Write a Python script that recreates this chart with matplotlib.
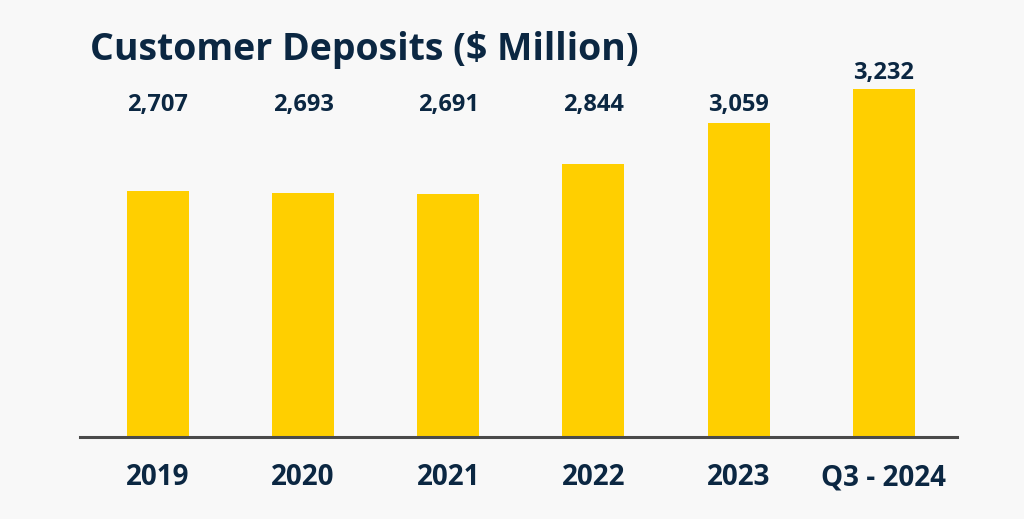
import matplotlib.pyplot as plt

# Customer deposits per period, $ million
periods = ['2019', '2020', '2021', '2022', '2023', 'Q3 - 2024']
deposits = [2707, 2693, 2691, 2844, 3059, 3232]

navy = '#0b2742'
gold = '#ffcf00'
bg = '#f8f8f8'

plt.rcParams['font.family'] = ['Open Sans', 'DejaVu Sans']

fig = plt.figure(figsize=(10.24, 5.19), dpi=100, facecolor=bg)
ax = fig.add_axes([0.078, 0.158, 0.8564, 0.765], facecolor=bg)

x = range(len(periods))
ax.bar(x, deposits, width=0.427, color=gold, zorder=2)

# axis floor is not zero, so the growth reads clearly
ax.set_ylim(1427, 3489)
ax.set_xlim(-0.537, 5.503)

# value labels sit on one line, unless the bar pushes them up
label_level = 3150
for i, v in enumerate(deposits):
    y = max(label_level, v + 85)
    ax.text(i, y, f'{v:,}', ha='center', va='center', fontsize=17,
            fontweight='bold', color=navy)

for side in ['top', 'right', 'left']:
    ax.spines[side].set_visible(False)
ax.spines['bottom'].set_color('#4a4a4a')
ax.spines['bottom'].set_linewidth(2.2)
ax.set_yticks([])
ax.set_xticks(list(x))
ax.set_xticklabels(periods, fontsize=20, fontweight='bold', color=navy)
ax.tick_params(axis='x', length=0, pad=19)

fig.text(90 / 1024, (519 - 60) / 519, 'Customer Deposits ($ Million)',
         fontsize=27, fontweight='bold', color=navy, va='baseline')

fig.savefig('out.png', dpi=100, facecolor=bg)
